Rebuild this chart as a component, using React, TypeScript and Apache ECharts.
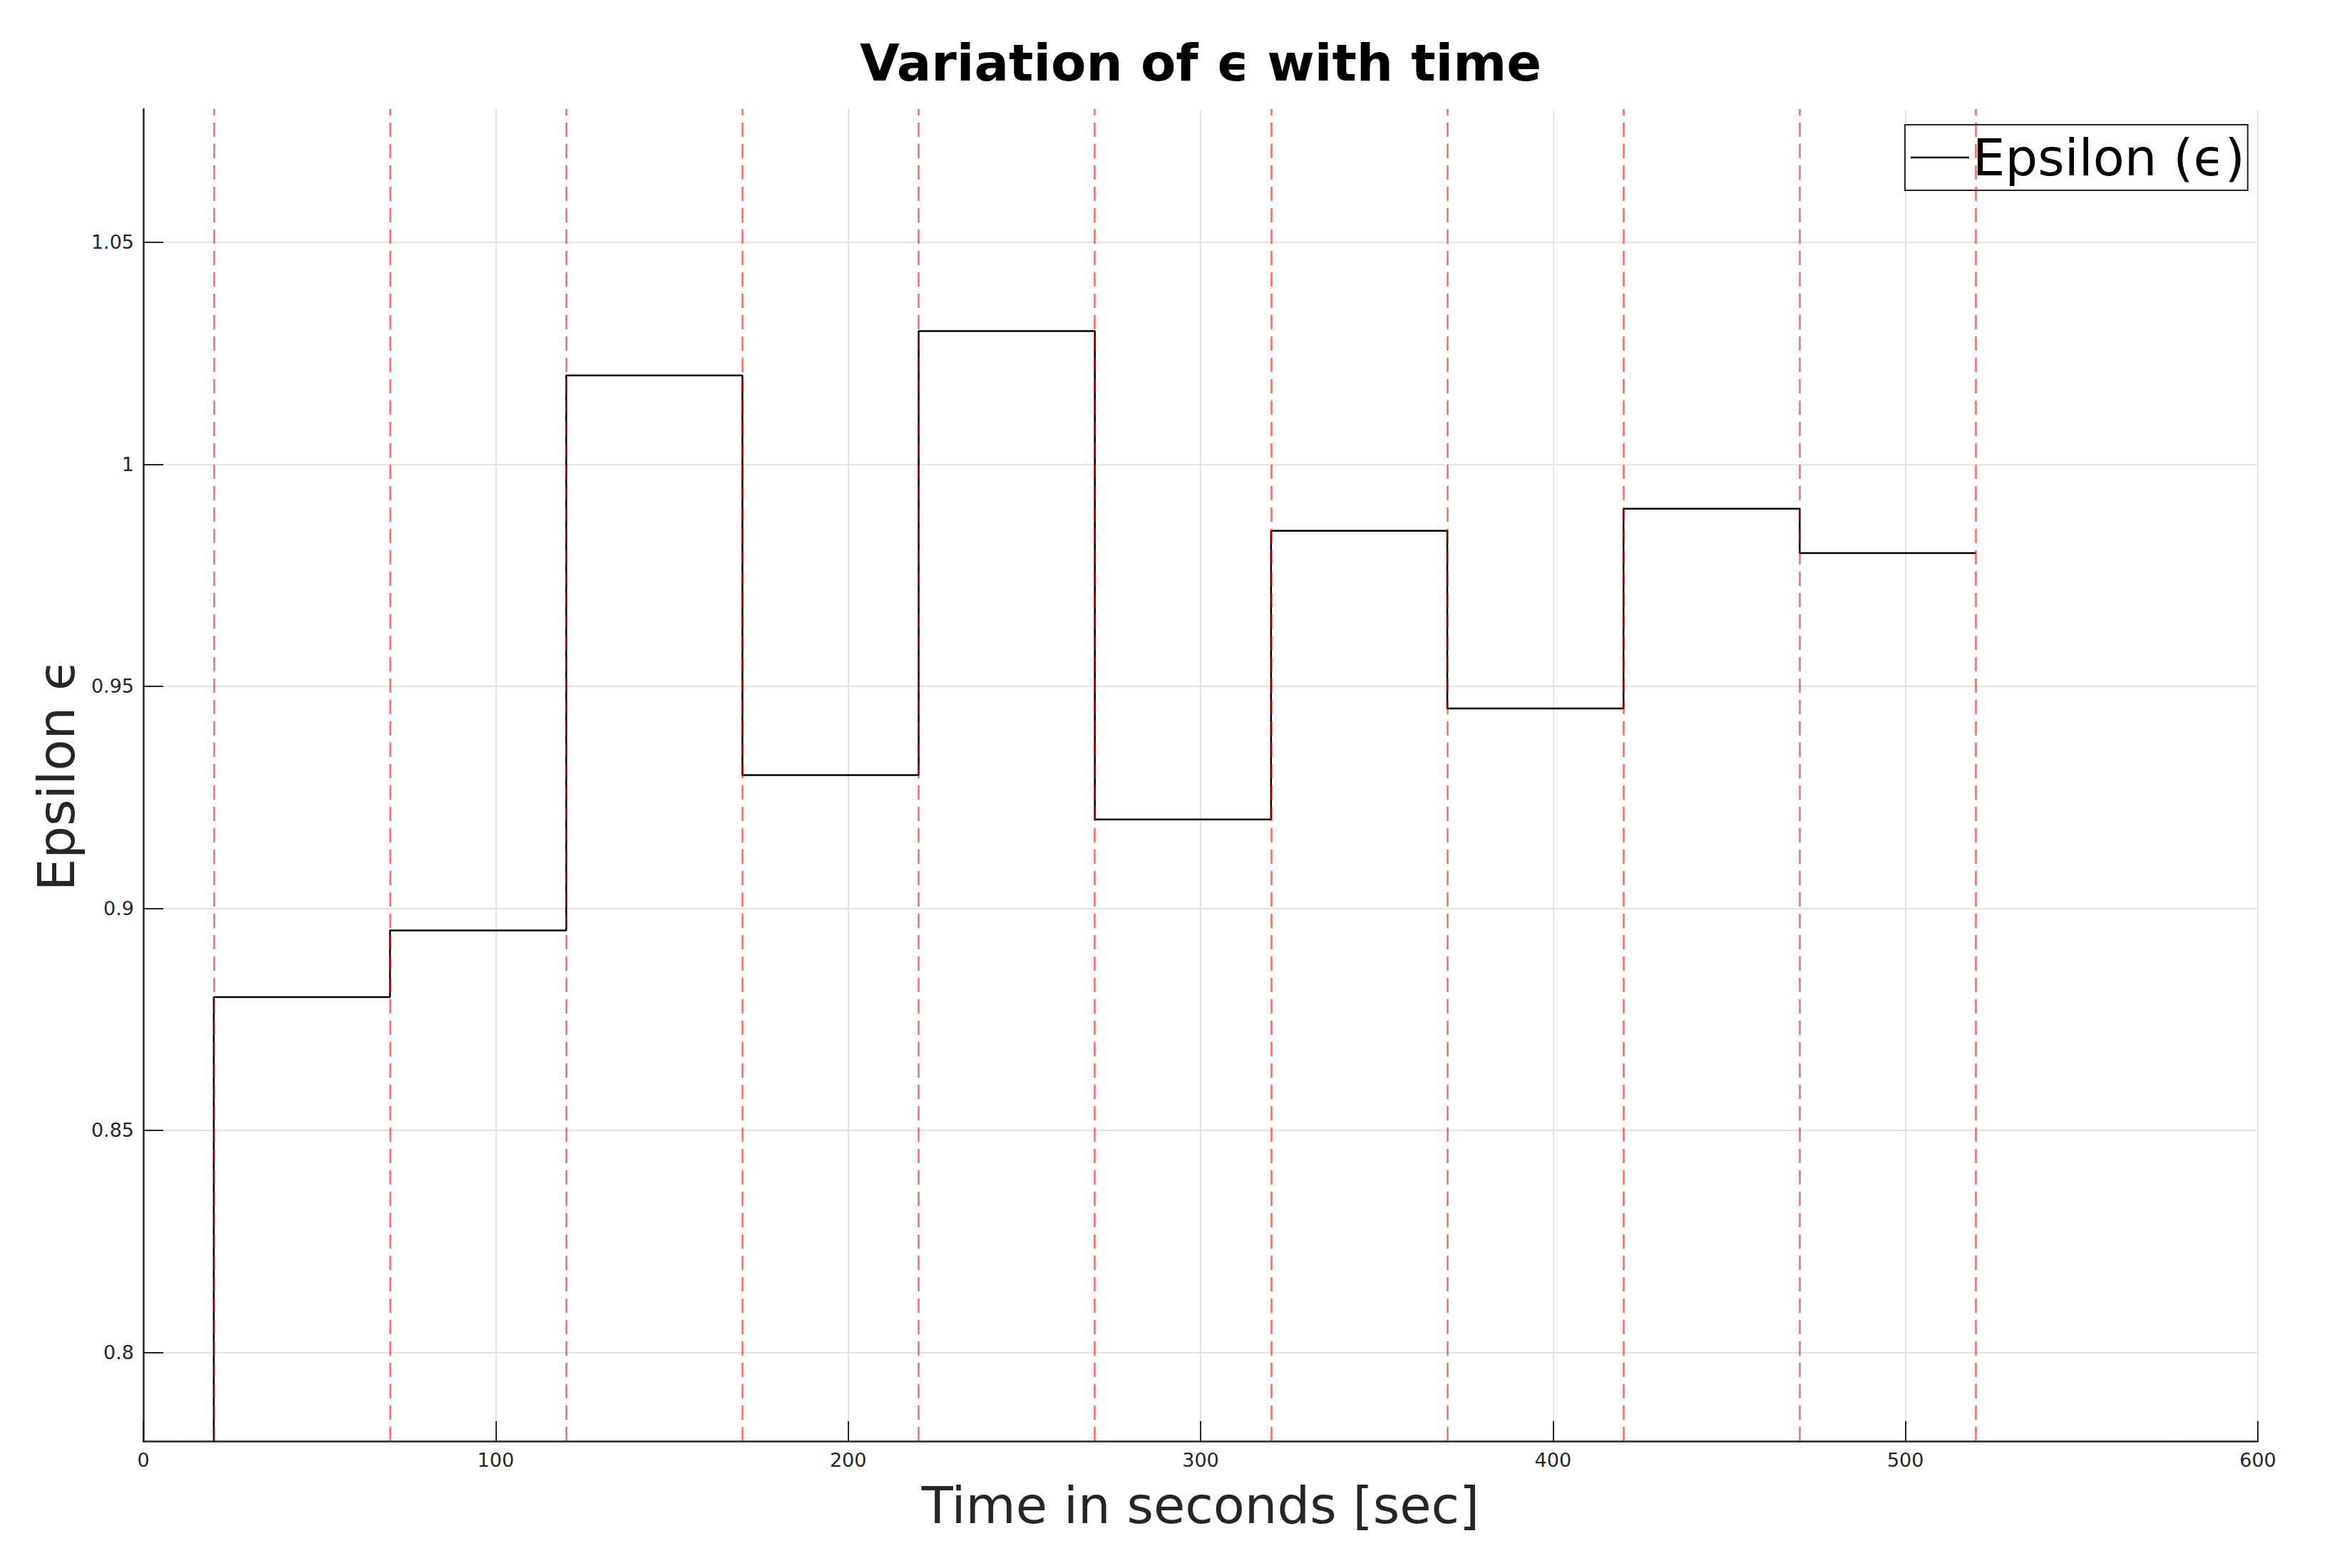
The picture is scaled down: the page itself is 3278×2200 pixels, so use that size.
import React, { useEffect, useRef } from "react";
import * as echarts from "echarts";

// Switching instants (s) and the epsilon level held from each instant to the next
const switchTimes = [20, 70, 120, 170, 220, 270, 320, 370, 420, 470, 520];
const epsilonLevels = [0.88, 0.895, 1.02, 0.93, 1.03, 0.92, 0.985, 0.945, 0.99, 0.98];
const epsilonInitial = 0;
const yTickValues = [0.8, 0.85, 0.9, 0.95, 1, 1.05];
const xTickValues = [0, 100, 200, 300, 400, 500, 600];

const TITLE = "Variation of \u03F5 with time";
const SERIES_NAME = "Epsilon (\u03F5)";
const X_NAME = "Time in seconds [sec]";
const Y_NAME = "Epsilon \u03F5";

export default function App() {
  const ref = useRef<HTMLDivElement>(null);
  useEffect(() => {
    if (!ref.current) return;
    const chart = echarts.init(ref.current, undefined, { renderer: "svg" });

    const stepData: [number, number][] = [[switchTimes[0], epsilonInitial]];
    for (let i = 0; i < epsilonLevels.length; i++) {
      stepData.push([switchTimes[i], epsilonLevels[i]]);
    }
    // hold last level until final switch time
    stepData.push([switchTimes[switchTimes.length - 1], epsilonLevels[epsilonLevels.length - 1]]);

    const font = "DejaVu Sans";
    const axisColor = "#262626";

    chart.setOption({
      animation: false,
      backgroundColor: "#ffffff",
      textStyle: { fontFamily: font },
      title: {
        text: TITLE,
        left: 1684,
        top: 52,
        textAlign: "center",
        padding: 0,
        textStyle: { fontSize: 72, fontWeight: "bold", color: "#000", fontFamily: font },
      },
      legend: {
        data: [{ name: SERIES_NAME, icon: "rect" }],
        left: 2672,
        top: 175,
        orient: "vertical",
        padding: [9, 4, 9, 8],
        itemWidth: 82,
        itemHeight: 2.5,
        borderColor: axisColor,
        borderWidth: 2,
        backgroundColor: "#fff",
        itemStyle: { color: "#000", borderWidth: 0 },
        textStyle: { fontSize: 72, color: "#000", fontFamily: font, lineHeight: 74 },
      },
      grid: {
        left: 201,
        right: 111,
        top: 153,
        bottom: 178,
        containLabel: false,
        outerBoundsMode: "none",
      },
      xAxis: {
        type: "value",
        min: 0,
        max: 600,
        interval: 100,
        name: X_NAME,
        nameLocation: "middle",
        nameGap: 54,
        nameTextStyle: { fontSize: 72, color: axisColor, fontFamily: font },
        axisLine: { show: true, onZero: false, lineStyle: { color: axisColor, width: 2.5 } },
        axisTick: { show: true, inside: true, length: 28, customValues: xTickValues, lineStyle: { color: axisColor, width: 2 } },
        axisLabel: { show: true, customValues: xTickValues, fontSize: 27, color: axisColor, margin: 13, fontFamily: font },
        splitLine: { show: true, lineStyle: { color: "#e3e3e3", width: 2 } },
      },
      yAxis: {
        type: "value",
        min: 0.78,
        max: 1.08,
        name: Y_NAME,
        nameLocation: "middle",
        nameGap: 86,
        nameTextStyle: { fontSize: 72, color: axisColor, fontFamily: font },
        axisLine: { show: true, onZero: false, lineStyle: { color: axisColor, width: 2.5 } },
        axisTick: { show: true, inside: true, length: 28, customValues: yTickValues, lineStyle: { color: axisColor, width: 2 } },
        axisLabel: { show: true, customValues: yTickValues, fontSize: 27, color: axisColor, margin: 13, fontFamily: font },
        splitLine: { show: true, lineStyle: { color: "#e3e3e3", width: 2 } },
      },
      series: [
        {
          name: SERIES_NAME,
          type: "line",
          step: "end",
          data: stepData,
          symbol: "none",
          clip: true,
          z: 2,
          lineStyle: { color: "#000", width: 2.5 },
          itemStyle: { color: "#000" },
        },
        {
          name: "switches",
          type: "line",
          data: [],
          z: 3,
          markLine: {
            silent: true,
            symbol: ["none", "none"],
            label: { show: false },
            animation: false,
            lineStyle: { type: [20, 10], color: "rgba(255,0,0,0.6)", width: 2.5 },
            data: switchTimes.map((t) => ({ xAxis: t })),
          },
        },
      ],
    });
    return () => chart.dispose();
  }, []);
  return (
    <div
      ref={ref}
      style={{ position: "fixed", left: 0, top: 0, width: 3278, height: 2200 }}
    />
  );
}
